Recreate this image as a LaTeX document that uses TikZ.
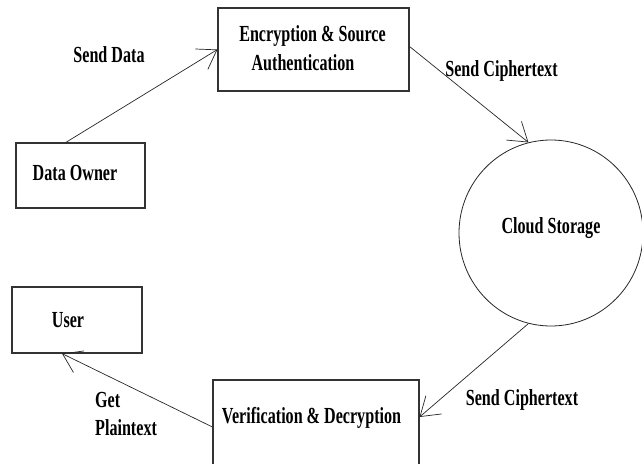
\documentclass[tikz,border=0pt]{standalone}
\usepackage{fontspec}
\setmainfont[FakeStretch=0.70]{Liberation Serif}
\usetikzlibrary{arrows.meta,shapes.geometric}
\begin{document}
\begin{tikzpicture}[x=1pt,y=-1pt,
  box/.style={draw=black!80,line width=1.1pt,inner sep=0pt},
  lbl/.style={inner sep=0pt,anchor=base,font=\fontsize{23}{25}\selectfont\bfseries},
  conn/.style={line width=0.7pt,draw=black!85,-{Straight Barb[length=18pt,width=24pt,line width=0.7pt]}}]
\clip (0,0) rectangle (642,463);
% shapes
\node[box,minimum width=191pt,minimum height=83pt] (enc) at (313.5,49.5) {};
\node[box,minimum width=129pt,minimum height=65pt] (owner) at (80.5,175.5) {};
\node[box,minimum width=130pt,minimum height=66pt] (user) at (77,320) {};
\node[box,minimum width=206pt,minimum height=90pt] (ver) at (316,425) {};
\node[draw=black!85,line width=0.8pt,ellipse,minimum width=184pt,minimum height=186pt,inner sep=0pt] (cloud) at (551,233) {};
% texts
\node[lbl] (tenc1) at (312.5,41.5) {Encryption \& Source};
\node[lbl] (tenc2) at (303,70) {Authentication};
\node[lbl] (towner) at (75,180) {Data Owner};
\node[lbl] (tuser) at (68,327) {User};
\node[lbl] (tcloud) at (551,233) {Cloud Storage};
\node[lbl] (tver) at (311.5,423) {Verification \& Decryption};
\node[lbl] (tsd) at (109,62) {Send Data};
\node[lbl] (tsc1) at (501.5,76) {Send Ciphertext};
\node[lbl] (tsc2) at (522,405) {Send Ciphertext};
\node[lbl,anchor=base west] (tget) at (95,407) {Get};
\node[lbl,anchor=base west] (tplain) at (95,435) {Plaintext};
% connectors
\draw[conn] (owner.114) -- (enc.west);
\draw[conn] ([yshift=3pt]enc.east) -- (cloud.104);
\draw[conn] (cloud.256) -- ([yshift=8pt]ver.east);
\draw[conn] ([yshift=-2pt]ver.west) -- ([xshift=-15pt]user.south);
\end{tikzpicture}
\end{document}
